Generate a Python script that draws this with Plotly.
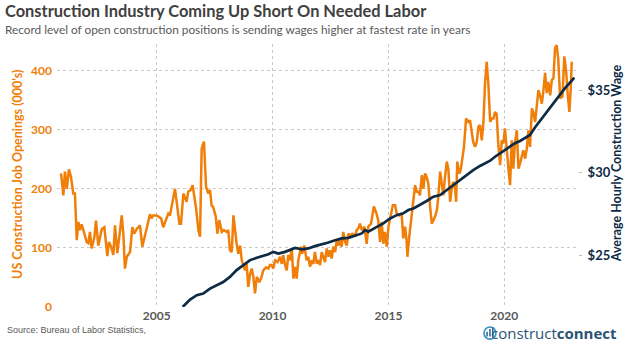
import plotly.graph_objects as go
from datetime import datetime

# ---------------- data ----------------
jobs_year = [2000.87, 2000.97, 2001.04, 2001.12, 2001.21, 2001.30, 2001.40, 2001.47, 2001.55, 2001.62,
             2001.69, 2001.76, 2001.88, 2001.98, 2002.05, 2002.12, 2002.19, 2002.31, 2002.38, 2002.48,
             2002.63, 2002.74, 2002.87, 2002.94, 2003.03, 2003.13, 2003.20, 2003.30, 2003.42, 2003.49,
             2003.56, 2003.63, 2003.71, 2003.85, 2003.95, 2004.03, 2004.14, 2004.28, 2004.38, 2004.50,
             2004.61, 2004.71, 2004.78, 2004.85, 2005.00, 2005.19, 2005.28, 2005.36, 2005.43, 2005.50,
             2005.57, 2005.79, 2005.98, 2006.05, 2006.15, 2006.29, 2006.36, 2006.47, 2006.55, 2006.61,
             2006.70, 2006.80, 2006.87, 2006.94, 2007.04, 2007.13, 2007.23, 2007.30, 2007.37, 2007.44,
             2007.55, 2007.62, 2007.70, 2007.81, 2007.90, 2008.02, 2008.09, 2008.16, 2008.24, 2008.31,
             2008.38, 2008.45, 2008.52, 2008.60, 2008.67, 2008.74, 2008.81, 2008.88, 2008.95, 2009.03,
             2009.10, 2009.17, 2009.24, 2009.32, 2009.43, 2009.50, 2009.60, 2009.72, 2009.82, 2009.89,
             2009.96, 2010.03, 2010.11, 2010.22, 2010.32, 2010.40, 2010.46, 2010.54, 2010.61, 2010.68,
             2010.75, 2010.83, 2010.90, 2010.97, 2011.04, 2011.11, 2011.23, 2011.28, 2011.37, 2011.47,
             2011.54, 2011.62, 2011.69, 2011.76, 2011.83, 2011.91, 2011.97, 2012.05, 2012.12, 2012.19,
             2012.26, 2012.34, 2012.41, 2012.48, 2012.55, 2012.62, 2012.70, 2012.77, 2012.84, 2012.91,
             2012.98, 2013.05, 2013.13, 2013.20, 2013.27, 2013.34, 2013.44, 2013.56, 2013.63, 2013.70,
             2013.77, 2013.85, 2013.96, 2014.06, 2014.13, 2014.25, 2014.37, 2014.47, 2014.56, 2014.64,
             2014.71, 2014.78, 2014.85, 2014.93, 2015.00, 2015.10, 2015.19, 2015.29, 2015.36, 2015.47,
             2015.57, 2015.64, 2015.72, 2015.79, 2015.82, 2015.90, 2016.01, 2016.08, 2016.15, 2016.22,
             2016.29, 2016.36, 2016.44, 2016.51, 2016.58, 2016.65, 2016.72, 2016.80, 2016.87, 2016.94,
             2017.01, 2017.09, 2017.15, 2017.23, 2017.30, 2017.37, 2017.44, 2017.52, 2017.59, 2017.66,
             2017.73, 2017.80, 2017.88, 2017.92, 2017.97, 2018.06, 2018.12, 2018.21, 2018.26, 2018.35,
             2018.45, 2018.52, 2018.60, 2018.66, 2018.74, 2018.81, 2018.88, 2018.95, 2019.03, 2019.10,
             2019.17, 2019.24, 2019.31, 2019.39, 2019.46, 2019.53, 2019.60, 2019.67, 2019.74, 2019.82,
             2019.89, 2019.96, 2020.03, 2020.11, 2020.18, 2020.25, 2020.32, 2020.39, 2020.46, 2020.54,
             2020.61, 2020.68, 2020.75, 2020.82, 2020.90, 2020.97, 2021.04, 2021.11, 2021.19, 2021.25,
             2021.33, 2021.40, 2021.47, 2021.54, 2021.62, 2021.69, 2021.76, 2021.83, 2021.90, 2021.98,
             2022.05, 2022.12, 2022.19, 2022.26, 2022.33, 2022.41, 2022.51, 2022.59, 2022.67, 2022.74,
             2022.81, 2022.87, 2022.91]

jobs_k = [226, 189, 229, 200, 233, 220, 192, 192, 113, 144,
          130, 140, 124, 110, 108, 127, 99, 118, 146, 104,
          132, 135, 86, 110, 102, 88, 138, 91, 130, 155,
          124, 65, 85, 93, 135, 124, 132, 138, 102, 124,
          141, 157, 150, 155, 155, 150, 135, 144, 153, 158,
          155, 200, 141, 141, 192, 178, 195, 198, 206, 192,
          167, 130, 119, 268, 280, 203, 192, 198, 172, 169,
          153, 124, 147, 127, 130, 127, 130, 96, 93, 155,
          124, 107, 90, 104, 79, 70, 62, 73, 34, 56,
          65, 51, 23, 51, 42, 48, 62, 67, 65, 71,
          71, 65, 79, 76, 85, 73, 88, 71, 62, 88,
          79, 99, 48, 68, 48, 79, 102, 90, 104, 79,
          85, 68, 79, 73, 93, 73, 79, 71, 93, 85,
          76, 99, 85, 96, 82, 102, 93, 113, 104, 113,
          102, 127, 110, 104, 124, 121, 124, 121, 130, 133,
          141, 130, 136, 107, 136, 141, 170, 160, 147, 110,
          144, 107, 127, 102, 136, 155, 172, 172, 158, 155,
          158, 116, 136, 110, 85, 119, 155, 186, 206, 195,
          195, 189, 223, 200, 226, 220, 209, 169, 141, 147,
          153, 164, 186, 229, 209, 189, 220, 246, 232, 178,
          200, 212, 200, 178, 246, 226, 232, 254, 271, 319,
          313, 316, 291, 279, 271, 279, 305, 308, 282, 313,
          379, 415, 379, 313, 319, 319, 330, 327, 277, 240,
          282, 277, 302, 257, 234, 206, 282, 234, 277, 299,
          234, 243, 257, 265, 251, 268, 299, 271, 336, 330,
          313, 339, 367, 358, 344, 367, 396, 362, 381, 358,
          384, 387, 438, 443, 418, 353, 356, 424, 398, 358,
          330, 372, 415]

wage_year = [2006.12, 2006.44, 2006.73, 2007.01, 2007.30, 2007.59, 2007.87, 2008.16, 2008.45, 2008.74,
             2009.03, 2009.32, 2009.60, 2009.82, 2010.03, 2010.25, 2010.54, 2010.97, 2011.26, 2011.54,
             2011.83, 2012.12, 2012.41, 2012.70, 2012.98, 2013.27, 2013.56, 2013.85, 2013.99, 2014.13,
             2014.50, 2014.78, 2015.07, 2015.36, 2015.64, 2015.86, 2016.08, 2016.36, 2016.65, 2016.94,
             2017.23, 2017.52, 2017.80, 2018.09, 2018.38, 2018.66, 2018.95, 2019.17, 2019.39, 2019.60,
             2019.82, 2020.03, 2020.25, 2020.46, 2020.68, 2020.90, 2021.11, 2021.33, 2021.54, 2021.76,
             2021.98, 2022.19, 2022.41, 2022.62, 2022.84, 2023.02]

wage_usd = [21.85, 22.30, 22.57, 22.67, 22.97, 23.17, 23.37, 23.68, 24.09, 24.39,
            24.70, 24.84, 24.94, 25.06, 25.20, 25.10, 25.20, 25.44, 25.35, 25.41,
            25.55, 25.65, 25.77, 25.91, 26.02, 26.05, 26.17, 26.32, 26.52, 26.42,
            26.72, 26.93, 27.23, 27.43, 27.54, 27.74, 27.84, 28.04, 28.29, 28.55,
            28.65, 28.96, 29.26, 29.56, 29.87, 30.17, 30.42, 30.58, 30.74, 30.98,
            31.19, 31.39, 31.59, 31.80, 31.94, 32.10, 32.30, 32.77, 33.16, 33.52,
            33.93, 34.33, 34.74, 35.15, 35.49, 35.79]

jobs_ticks = [0, 100, 200, 300, 400]
wage_ticks = [25, 30, 35]
wage_tick_labels = ["$25", "$30", "$35"]
year_ticks = [2005, 2010, 2015, 2020]

title = "Construction Industry Coming Up Short On Needed Labor"
subtitle = "Record level of open construction positions is sending wages higher at fastest rate in years"
left_title = "US Construction Job Openings (000's)"
right_title = "Average Hourly Construction Wage"
source = "Source: Bureau of Labor Statistics,"


def to_date(y):
    yr = int(y)
    a = datetime(yr, 1, 1)
    b = datetime(yr + 1, 1, 1)
    return a + (b - a) * (y - yr)


ORANGE = "#F07F0A"
NAVY = "#0D2B45"
GRID = "#C9C9C9"
FONT = "Lato"

fig = go.Figure()
fig.add_trace(go.Scatter(
    x=[to_date(v) for v in jobs_year], y=jobs_k, mode="lines",
    line=dict(color=ORANGE, width=2.5), yaxis="y", showlegend=False, hoverinfo="skip"))
fig.add_trace(go.Scatter(
    x=[to_date(v) for v in wage_year], y=wage_usd, mode="lines",
    line=dict(color=NAVY, width=2.7), yaxis="y2", showlegend=False, hoverinfo="skip"))

fig.update_layout(
    width=624, height=342,
    margin=dict(l=57, r=46, t=44, b=35),
    paper_bgcolor="white", plot_bgcolor="white",
    font=dict(family=FONT),
    xaxis=dict(
        type="date",
        range=[to_date(2000.697), to_date(2023.181)],
        tickvals=[datetime(y, 1, 1) for y in year_ticks],
        ticktext=[str(y) for y in year_ticks],
        showgrid=True, gridcolor=GRID, griddash="dot", gridwidth=1,
        zeroline=False, showline=False, ticks="",
        tickfont=dict(family=FONT, size=12, color="#595959", weight="bold"),
    ),
    yaxis=dict(
        range=[0, 445],
        tickvals=jobs_ticks,
        showgrid=True, gridcolor=GRID, griddash="dot", gridwidth=1,
        zeroline=False, showline=False, ticks="",
        ticklabelstandoff=4,
        tickfont=dict(family=FONT, size=12, color=ORANGE, weight="bold"),
    ),
    yaxis2=dict(
        overlaying="y", side="right",
        range=[21.85, 37.83],
        tickvals=wage_ticks, ticktext=wage_tick_labels,
        showgrid=False, zeroline=False, showline=False,
        ticks="outside", ticklen=3, tickcolor="#BFBFBF",
        ticklabelstandoff=3,
        tickfont=dict(family=FONT, size=13, color=NAVY, weight="bold"),
    ),
)

annotations = [
    dict(text=title, x=-0.1036, y=1.129, xref="paper", yref="paper",
         xanchor="left", yanchor="middle", showarrow=False,
         font=dict(family=FONT, size=16.4, color="#404040", weight="bold")),
    dict(text=subtitle, x=-0.1036, y=1.057, xref="paper", yref="paper",
         xanchor="left", yanchor="middle", showarrow=False,
         font=dict(family=FONT, size=11.8, color="#595959")),
    dict(text=left_title, x=-0.0749, y=0.506, xref="paper", yref="paper",
         xanchor="center", yanchor="middle", showarrow=False, textangle=-90,
         font=dict(family=FONT, size=12.5, color=ORANGE, weight="bold")),
    dict(text=right_title, x=1.0743, y=0.5456, xref="paper", yref="paper",
         xanchor="center", yanchor="middle", showarrow=False, textangle=-90,
         font=dict(family=FONT, size=12.5, color=NAVY, weight="bold")),
    dict(text=source, x=-0.0998, y=-0.087, xref="paper", yref="paper",
         xanchor="left", yanchor="middle", showarrow=False,
         font=dict(family="Liberation Sans", size=9, color="#595959")),
    dict(text="construct<b>connect</b>", x=1.0787, y=-0.099, xref="paper", yref="paper",
         xanchor="right", yanchor="middle", showarrow=False,
         font=dict(family="Open Sans", size=15, color="#2C5372")),
]
fig.update_layout(annotations=annotations)

# small logo mark (circle with bars)
shapes = [
    dict(type="circle", xref="paper", yref="paper",
         x0=0.8195, x1=0.8425, y0=-0.122, y1=-0.076,
         line=dict(color="#3C8FC7", width=1.6)),
]
for i, h in enumerate([0.018, 0.028, 0.036]):
    xx = 0.8255 + i * 0.0055
    shapes.append(dict(type="line", xref="paper", yref="paper",
                       x0=xx, x1=xx, y0=-0.112, y1=-0.112 + h,
                       line=dict(color="#2C6E9E", width=1.6)))
fig.update_layout(shapes=shapes)

fig.write_html("out.html")
